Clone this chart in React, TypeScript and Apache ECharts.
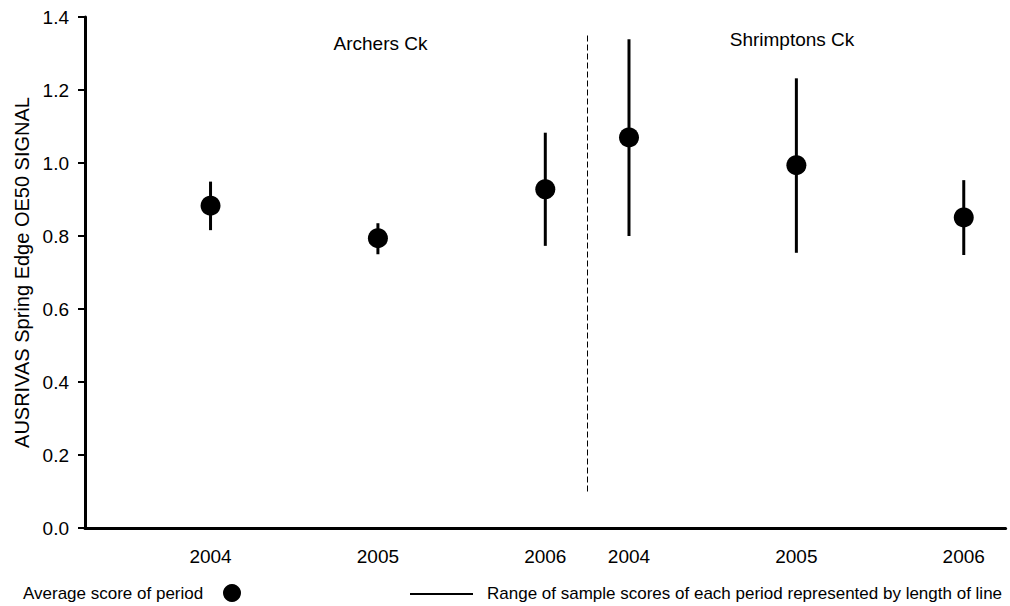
import React, { useEffect, useRef } from "react";
import * as echarts from "echarts";

const yearLabels = ["2004", "2005", "2006", "2004", "2005", "2006"];
const xPositions = [1, 2, 3, 3.5, 4.5, 5.5];
const means = [0.883, 0.794, 0.928, 1.07, 0.994, 0.851];
const lows = [0.816, 0.75, 0.773, 0.8, 0.754, 0.748];
const highs = [0.949, 0.835, 1.083, 1.339, 1.232, 0.953];
const siteLabels = ["Archers Ck", "Shrimptons Ck"];
const dividerX = 3.25;
const dividerRange = [0.1, 1.35];

const FONT = "Liberation Sans, Arial, sans-serif";

export default function App() {
  const ref = useRef<HTMLDivElement>(null);
  useEffect(() => {
    if (!ref.current) return;
    const chart = echarts.init(ref.current, undefined, { renderer: "svg" });
    const labelFor = (v: number) => {
      const i = xPositions.findIndex((p) => Math.abs(p - v) < 1e-6);
      return i >= 0 ? yearLabels[i] : "";
    };
    chart.setOption({
      animation: false,
      backgroundColor: "#fff",
      grid: { left: 85, top: 17, right: 4.4, bottom: 78, containLabel: false },
      xAxis: {
        type: "value",
        min: 0.25,
        max: 5.75,
        interval: 0.25,
        splitLine: { show: false },
        axisTick: { show: false },
        axisLine: { show: true, onZero: false, lineStyle: { color: "#000", width: 3 } },
        axisLabel: {
          formatter: (v: number) => labelFor(v),
          color: "#000",
          fontFamily: FONT,
          fontSize: 19,
          margin: 19,
          showMinLabel: true,
          showMaxLabel: true,
        },
      },
      yAxis: {
        type: "value",
        min: 0,
        max: 1.4,
        interval: 0.2,
        name: "AUSRIVAS Spring Edge OE50 SIGNAL",
        nameLocation: "middle",
        nameGap: 50,
        nameTextStyle: { color: "#000", fontFamily: FONT, fontSize: 20 },
        splitLine: { show: false },
        axisLine: { show: true, lineStyle: { color: "#000", width: 3 } },
        axisTick: { show: true, length: 7, lineStyle: { color: "#000", width: 2 } },
        axisLabel: {
          formatter: (v: number) => v.toFixed(1),
          color: "#000",
          fontFamily: FONT,
          fontSize: 19,
          margin: 16,
        },
      },
      series: [
        {
          type: "custom",
          name: "range",
          data: xPositions.map((x, i) => [x, lows[i], highs[i]]),
          encode: { x: 0, y: [1, 2] },
          renderItem: (params: any, api: any) => {
            const x = api.value(0);
            const p1 = api.coord([x, api.value(1)]);
            const p2 = api.coord([x, api.value(2)]);
            return {
              type: "line",
              shape: { x1: p1[0], y1: p1[1], x2: p2[0], y2: p2[1] },
              style: { stroke: "#000", lineWidth: 3 },
            };
          },
          z: 2,
        },
        {
          type: "scatter",
          name: "mean",
          data: xPositions.map((x, i) => [x, means[i]]),
          symbol: "circle",
          symbolSize: 20,
          itemStyle: { color: "#000", opacity: 1 },
          z: 3,
          markLine: {
            silent: true,
            symbol: "none",
            label: { show: false },
            lineStyle: { color: "#000", width: 1, type: [6, 3] },
            data: [
              [
                { coord: [dividerX, dividerRange[0]] },
                { coord: [dividerX, dividerRange[1]] },
              ],
            ],
          },
        },
      ],
      graphic: [
        {
          type: "text",
          x: 380.5,
          y: 43,
          style: {
            text: siteLabels[0],
            fill: "#000",
            font: `19px ${FONT}`,
            textAlign: "center",
            textVerticalAlign: "middle",
          },
        },
        {
          type: "text",
          x: 792,
          y: 39,
          style: {
            text: siteLabels[1],
            fill: "#000",
            font: `19px ${FONT}`,
            textAlign: "center",
            textVerticalAlign: "middle",
          },
        },
        {
          type: "text",
          x: 23,
          y: 593,
          style: {
            text: "Average score of period",
            fill: "#000",
            font: `17px ${FONT}`,
            textAlign: "left",
            textVerticalAlign: "middle",
          },
        },
        {
          type: "circle",
          shape: { cx: 232, cy: 593, r: 9 },
          style: { fill: "#000" },
        },
        {
          type: "line",
          shape: { x1: 410, y1: 594, x2: 473, y2: 594 },
          style: { stroke: "#000", lineWidth: 2 },
        },
        {
          type: "text",
          x: 487,
          y: 593,
          style: {
            text: "Range of sample scores of each period represented by length of line",
            fill: "#000",
            font: `17px ${FONT}`,
            textAlign: "left",
            textVerticalAlign: "middle",
          },
        },
      ],
    });
    return () => chart.dispose();
  }, []);
  return <div ref={ref} style={{ width: 1010, height: 606, position: "absolute", left: 0, top: 0 }} />;
}
